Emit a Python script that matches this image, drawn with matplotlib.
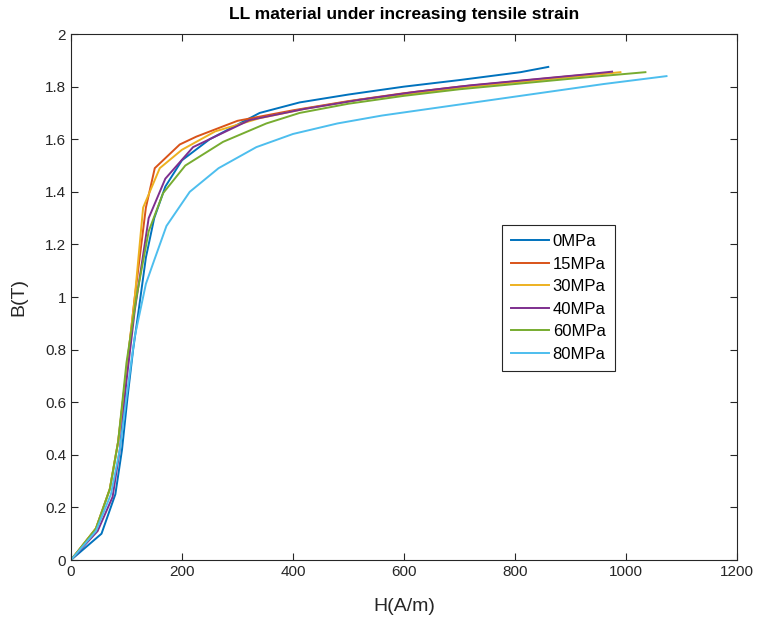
import matplotlib.pyplot as plt

plt.rcParams['font.family'] = ['Liberation Sans', 'DejaVu Sans']

# B-H curves
h_0 = [0, 55, 80, 92, 102, 112, 122, 135, 150, 170, 200, 250, 340, 412, 500, 600, 700, 810, 860]
b_0 = [0, 0.10, 0.25, 0.42, 0.62, 0.80, 0.95, 1.15, 1.30, 1.42, 1.52, 1.60, 1.70, 1.74, 1.77, 1.80, 1.825, 1.855, 1.875]

h_15 = [0, 45, 70, 85, 100, 115, 135, 151, 196, 226, 300, 400, 500, 600, 700, 800, 900, 970]
b_15 = [0, 0.12, 0.27, 0.45, 0.72, 1.00, 1.34, 1.49, 1.58, 1.61, 1.67, 1.71, 1.745, 1.775, 1.80, 1.82, 1.84, 1.852]

h_30 = [0, 45, 70, 85, 100, 115, 130, 160, 200, 260, 340, 420, 520, 620, 720, 820, 920, 990]
b_30 = [0, 0.12, 0.27, 0.45, 0.72, 1.00, 1.34, 1.49, 1.56, 1.63, 1.68, 1.715, 1.75, 1.775, 1.80, 1.82, 1.84, 1.855]

h_40 = [0, 48, 75, 88, 100, 115, 140, 170, 220, 322, 420, 520, 620, 720, 820, 920, 975]
b_40 = [0, 0.11, 0.24, 0.42, 0.68, 0.95, 1.30, 1.45, 1.57, 1.673, 1.715, 1.75, 1.78, 1.805, 1.825, 1.845, 1.857]

h_60 = [0, 45, 70, 85, 100, 118, 140, 166, 206, 274, 352, 412, 500, 600, 700, 800, 900, 1035]
b_60 = [0, 0.12, 0.27, 0.45, 0.75, 1.00, 1.25, 1.395, 1.50, 1.59, 1.66, 1.70, 1.735, 1.765, 1.79, 1.81, 1.83, 1.855]

h_80 = [0, 45, 72, 88, 100, 115, 135, 150, 172, 214, 266, 334, 400, 480, 560, 660, 760, 860, 960, 1073]
b_80 = [0, 0.11, 0.25, 0.42, 0.62, 0.85, 1.05, 1.14, 1.27, 1.40, 1.49, 1.57, 1.62, 1.66, 1.69, 1.72, 1.75, 1.78, 1.81, 1.84]

labels = ['0MPa', '15MPa', '30MPa', '40MPa', '60MPa', '80MPa']
colors = ['#0072BD', '#D95319', '#EDB120', '#7E2F8E', '#77AC30', '#4DBEEE']

fig = plt.figure(figsize=(7.59, 6.19), dpi=100)
ax = fig.add_axes([0.0935, 0.0953, 0.8775, 0.8497])

series = [(h_0, b_0), (h_15, b_15), (h_30, b_30), (h_40, b_40), (h_60, b_60), (h_80, b_80)]
for (h, b), lab, c in zip(series, labels, colors):
    ax.plot(h, b, color=c, lw=1.4, label=lab)

ax.set_xlim(0, 1200)
ax.set_ylim(0, 2)
ax.set_xticks(range(0, 1201, 200))
ax.set_yticks([0, 0.2, 0.4, 0.6, 0.8, 1, 1.2, 1.4, 1.6, 1.8, 2])
ax.set_yticklabels(['0', '0.2', '0.4', '0.6', '0.8', '1', '1.2', '1.4', '1.6', '1.8', '2'])
ax.tick_params(direction='in', top=True, right=True, labelsize=11, colors='#262626', length=5)
for s in ax.spines.values():
    s.set_color('#262626')
    s.set_linewidth(0.8)

ax.set_xlabel('H(A/m)', fontsize=14, color='#262626', labelpad=14)
ax.set_ylabel('B(T)', fontsize=14, color='#262626', labelpad=13)
ax.set_title('LL material under increasing tensile strain', fontsize=12.5, fontweight='bold', pad=11)

leg = ax.legend(loc='upper left', bbox_to_anchor=(0.647, 0.637), borderaxespad=0,
                fontsize=12, fancybox=False, edgecolor='#262626', framealpha=1,
                handlelength=2.3, borderpad=0.55, labelspacing=0.45, handletextpad=0.2)
leg.get_frame().set_linewidth(0.8)

fig.savefig('out.png', dpi=100)
